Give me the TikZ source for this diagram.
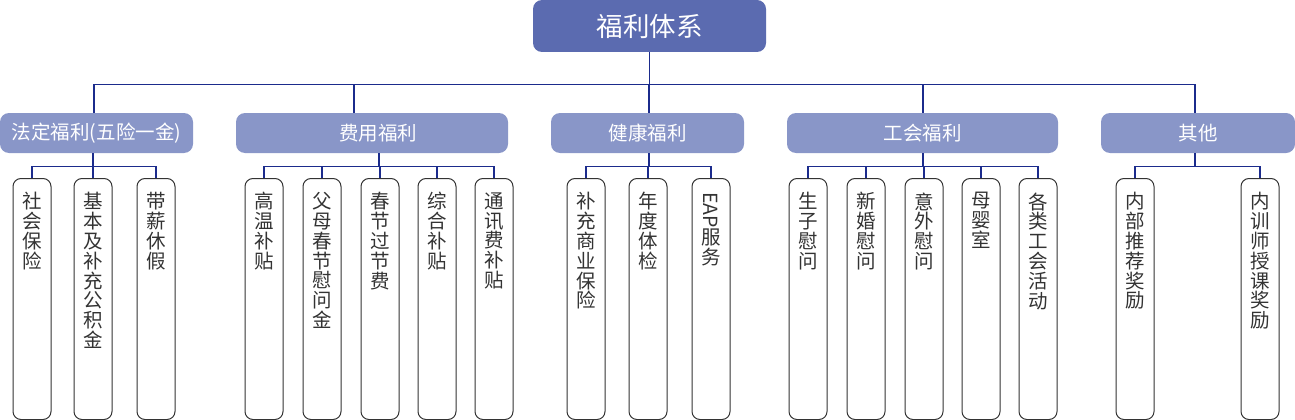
\documentclass[tikz,border=0pt]{standalone}
\usepackage{fontspec}
\usepackage{graphicx}
\setmainfont{Noto Sans CJK SC}
\definecolor{rootblue}{RGB}{91,107,176}
\definecolor{catblue}{RGB}{137,150,200}
\definecolor{linkblue}{RGB}{27,43,140}
\definecolor{itemgray}{RGB}{51,51,51}
\newcommand\vstack[1]{\parbox[t][213pt][t]{24pt}{\centering\fontsize{19.5}{19.8}\selectfont #1}}
\begin{document}
\begin{tikzpicture}[x=1pt,y=-1pt,line join=miter]
		\tikzset{root/.style={fill=rootblue,rounded corners=9,text=white,minimum width=233,minimum height=52,inner sep=0,font=\fontsize{26.5}{28}\selectfont},
			cat/.style={fill=catblue,rounded corners=9,text=white,minimum height=40,inner sep=0,font=\fontsize{19.5}{22}\selectfont},
			item/.style={draw=itemgray,line width=1pt,rounded corners=8,text=itemgray,anchor=north,minimum width=38,minimum height=241,inner xsep=0,inner ysep=14},
			link/.style={draw=linkblue,line width=1.2pt}}
		\useasboundingbox (0,0) rectangle (1295,420);
		\node[root] (sys) at (649.5,26) {福利体系};
		\node[cat,minimum width=193] (fd) at (96.5,133) {法定福利(五险一金)};
		\node[cat,minimum width=272] (fy) at (372,133) {\hspace*{12pt}费用福利};
		\node[cat,minimum width=193] (jk) at (647.5,133) {健康福利};
		\node[cat,minimum width=271] (gh) at (922.5,133) {工会福利};
		\node[cat,minimum width=194] (qt) at (1198,133) {其他};
		\foreach \c/\s in {fd/-2.5,fy/-18,jk/1.5,gh/0.5,qt/-3}
			\draw[link] (sys.south) -- ++(0,32) -| ([xshift=\s]\c.north);
		% items
		\foreach \n/\x/\t in {fd1/32/{社\\会\\保\\险},fd2/93/{基\\本\\及\\补\\充\\公\\积\\金},fd3/156/{带\\薪\\休\\假}}
			\node[item] (\n) at (\x,178) {\vstack{\t}};
		\foreach \n/\x/\t in {fy1/264/{高\\温\\补\\贴},fy2/322/{父\\母\\春\\节\\慰\\问\\金},fy3/380/{春\\节\\过\\节\\费},fy4/437/{综\\合\\补\\贴},fy5/494/{通\\讯\\费\\补\\贴}}
			\node[item] (\n) at (\x,178) {\vstack{\t}};
		\foreach \n/\x/\t in {jk1/586/{补\\充\\商\\业\\保\\险},jk2/648/{年\\度\\体\\检},jk3/711/{\rotatebox{-90}{EAP}\\服\\务}}
			\node[item] (\n) at (\x,178) {\vstack{\t}};
		\foreach \n/\x/\t in {gh1/808/{生\\子\\慰\\问},gh2/866/{新\\婚\\慰\\问},gh3/924/{意\\外\\慰\\问},gh4/981/{母\\婴\\室},gh5/1038/{各\\类\\工\\会\\活\\动}}
			\node[item] (\n) at (\x,178) {\vstack{\t}};
		\foreach \n/\x/\t in {qt1/1135/{内\\部\\推\\荐\\奖\\励},qt2/1260/{内\\训\\师\\授\\课\\奖\\励}}
			\node[item] (\n) at (\x,178) {\vstack{\t}};
		\foreach \n in {fd1,fd2,fd3} \draw[link] ([xshift=-3.5]fd.south) -- ++(0,13.5) -| (\n.north);
		\foreach \n in {fy1,fy2,fy3,fy4,fy5} \draw[link] ([xshift=7]fy.south) -- ++(0,13.5) -| (\n.north);
		\foreach \n in {jk1,jk2,jk3} \draw[link] ([xshift=1.5]jk.south) -- ++(0,13.5) -| (\n.north);
		\foreach \n in {gh1,gh2,gh3,gh4,gh5} \draw[link] ([xshift=0.5]gh.south) -- ++(0,13.5) -| (\n.north);
		\foreach \n in {qt1,qt2} \draw[link] ([xshift=-3]qt.south) -- ++(0,13.5) -| (\n.north);
\end{tikzpicture}
\end{document}
